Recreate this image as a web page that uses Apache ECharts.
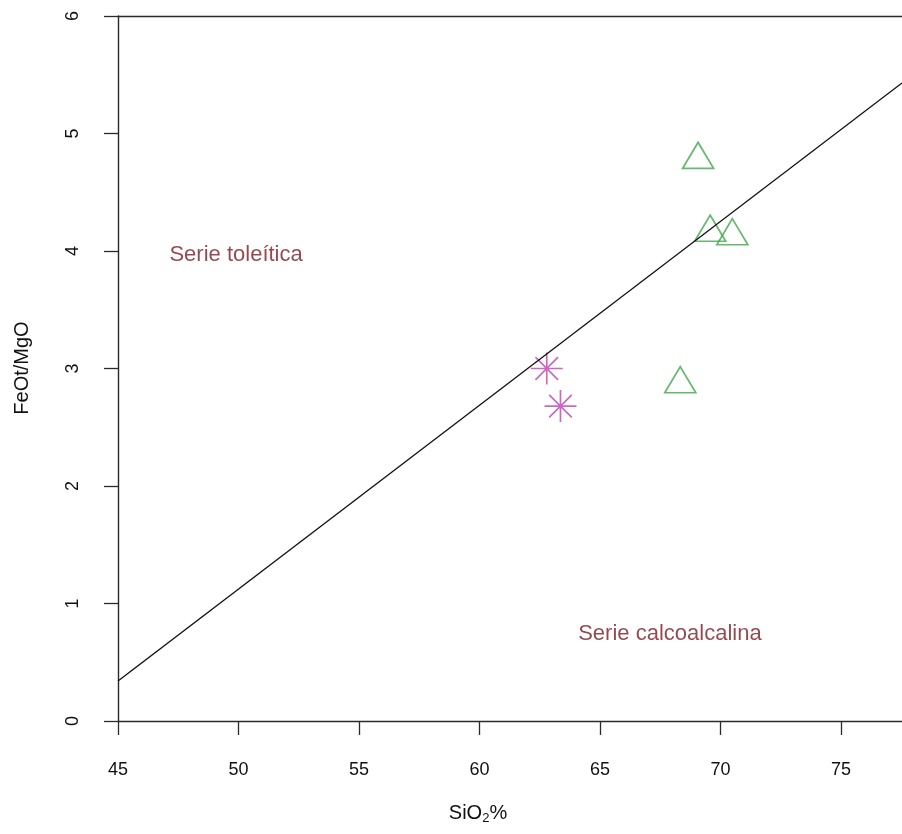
<!DOCTYPE html>
<html>
<head>
<meta charset="utf-8">
<script src="https://cdn.jsdelivr.net/npm/echarts@6/dist/echarts.min.js"></script>
<style>
html,body{margin:0;padding:0;background:#fff;}
#chart{width:902px;height:834px;}
</style>
</head>
<body>
<div id="chart"></div>
<script>
// Data
const triangleSiO2 = [69.07, 69.57, 70.49, 68.33];
const triangleFeMg = [4.78, 4.16, 4.13, 2.87];
const starSiO2 = [62.79, 63.36];
const starFeMg = [3.00, 2.68];
// Dividing line (Miyashiro) endpoints
const lineSiO2 = [45, 77.53];
const lineFeMg = [0.34, 5.43];
// Field annotations
const labelTexts = ['Serie toleítica', 'Serie calcoalcalina'];
const labelSiO2 = [49.9, 67.9];
const labelFeMg = [3.97, 0.74];
// Axis ticks
const xTicks = [45, 50, 55, 60, 65, 70, 75];
const yTicks = [0, 1, 2, 3, 4, 5, 6];
const xMax = 77.53;

const FONT = 'Liberation Sans, Arial, sans-serif';
const zip = (a, b) => a.map((v, i) => [v, b[i]]);
const AXC = '#2a2a2a';

const chart = echarts.init(document.getElementById('chart'), null, {renderer: 'canvas'});
chart.setOption({
  animation: false,
  backgroundColor: '#ffffff',
  grid: {left: 118, top: 16, right: 0, bottom: 113, show: false},
  xAxis: [
    {
      type: 'value', min: xTicks[0], max: xMax, interval: 5,
      axisLine: {show: true, onZero: false, lineStyle: {color: AXC, width: 1.4}},
      axisTick: {show: true, inside: false, length: 14, lineStyle: {color: AXC, width: 1.3}},
      splitLine: {show: false},
      axisLabel: {
        show: true, margin: 40, color: '#111', fontSize: 18, fontFamily: FONT,
        showMaxLabel: false,
        formatter: v => (xTicks.indexOf(v) >= 0 ? String(v) : '')
      }
    },
    {
      type: 'value', position: 'top', min: xTicks[0], max: xMax,
      axisLine: {show: true, onZero: false, lineStyle: {color: AXC, width: 1.4}},
      axisTick: {show: false}, axisLabel: {show: false}, splitLine: {show: false}
    }
  ],
  yAxis: {
    type: 'value', min: yTicks[0], max: yTicks[yTicks.length - 1], interval: 1,
    axisLine: {show: true, onZero: false, lineStyle: {color: AXC, width: 1.4}},
    axisTick: {show: true, inside: false, length: 14, lineStyle: {color: AXC, width: 1.3}},
    splitLine: {show: false},
    axisLabel: {
      show: true, margin: 36, rotate: 90, color: '#111', fontSize: 18, fontFamily: FONT
    }
  },
  graphic: [
    {
      type: 'text', x: 22, y: 368, rotation: Math.PI / 2,
      style: {text: 'FeOt/MgO', fill: '#111', font: '20px ' + FONT, align: 'center', verticalAlign: 'middle'}
    },
    {
      type: 'text', x: 478, y: 814,
      style: {
        text: '{a|SiO}{b|2}{a|%}', fill: '#111', align: 'center', verticalAlign: 'middle',
        rich: {
          a: {fontSize: 20, fontFamily: FONT, lineHeight: 22, verticalAlign: 'top', fill: '#111'},
          b: {fontSize: 13, fontFamily: FONT, lineHeight: 14, verticalAlign: 'bottom', padding: [12, 0, 0, 0], fill: '#111'}
        }
      }
    }
  ],
  series: [
    {
      type: 'line', data: zip(lineSiO2, lineFeMg), symbol: 'none', silent: true,
      lineStyle: {color: '#111', width: 1.4}, clip: true
    },
    {
      type: 'scatter', data: zip(triangleSiO2, triangleFeMg),
      symbol: 'triangle', symbolSize: [31, 26], symbolOffset: [0, -4],
      itemStyle: {color: 'none', borderColor: '#3FA84A', borderWidth: 1.7}
    },
    {
      type: 'scatter', data: zip(starSiO2, starFeMg),
      symbol: 'path://M0,-1L0,1M-1,0L1,0M-0.7071,-0.7071L0.7071,0.7071M-0.7071,0.7071L0.7071,-0.7071',
      symbolSize: 32,
      itemStyle: {color: 'none', borderColor: '#BE44B0', borderWidth: 1.7}
    },
    {
      type: 'scatter', silent: true, symbolSize: 0,
      data: labelTexts.map((t, i) => ({name: t, value: [labelSiO2[i], labelFeMg[i]]})),
      label: {
        show: true, position: 'inside', formatter: p => p.name,
        color: '#7A1A22', fontSize: 22, fontFamily: FONT
      }
    }
  ]
});
</script>
</body>
</html>
